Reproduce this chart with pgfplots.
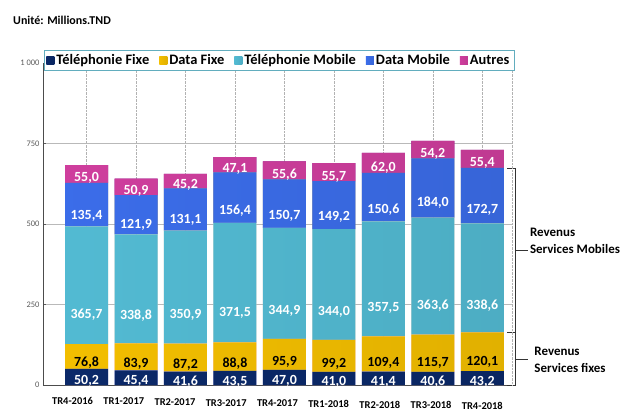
\documentclass[border=0pt]{standalone}
\usepackage{pgfplots}
\pgfplotsset{compat=1.18}
\usepackage{fontspec}
\setmainfont{Carlito}
\definecolor{cTF}{HTML}{0B2A6C}
\definecolor{cDF}{HTML}{FAC400}
\definecolor{cTM}{HTML}{55C0D9}
\definecolor{cDM}{HTML}{3D70F0}
\definecolor{cAU}{HTML}{D540A2}
\pgfplotsset{
  valnode/.style={
    visualization depends on=rawy \as \myrawy,
    nodes near coords={\pgfmathprintnumber[fixed,fixed zerofill,precision=1,use comma]{\myrawy}},
    every node near coord/.append style={anchor=center, yshift={-0.0805*\myrawy*1bp}, font=\bfseries\fontsize{14}{14}\selectfont, text=#1, inner sep=0pt}
  },
  cyl/.style={draw=none, left color=#1!97!black, middle color=#1!88!white, right color=#1!90!black}
}
\begin{document}
\begin{tikzpicture}
\path[use as bounding box] (-43bp,-27bp) rectangle (587bp,385bp);
\begin{axis}[
  at={(0,0)}, anchor=south west,
  scale only axis, width=469bp, height=322bp,
  ybar stacked, bar width=43bp,
  xmin=-0.88, xmax=8.6, ymin=0, ymax=1000,
  enlargelimits=false, clip=false,
  xtick={0,...,8},
  xticklabels={TR4-2016,TR1-2017,TR2-2017,TR3-2017,TR4-2017,TR1-2018,TR2-2018,TR3-2018,TR4-2018},
  xticklabel style={font=\bfseries\fontsize{10.5}{10.5}\selectfont, xshift={-14bp+1.75bp*\ticknum}, yshift={-9bp-0.55bp*\ticknum}},
  ytick={0,250,500,750,1000},
  yticklabels={0,250,500,750,1 000},
  yticklabel style={font=\fontsize{8.5}{8.5}\selectfont, text=gray!70!black},
  /pgf/number format/assume math mode=true,
  x tick style={draw=none},
  y tick style={gray!70!black},
  major tick length=3bp,
  axis x line*=bottom, axis y line*=left,
  axis line style={gray!60!black},
  xmajorgrids, ymajorgrids,
  x grid style={gray!60, densely dotted},
  y grid style={gray!55},
  legend columns=5,
  legend style={at={(0.503,1.009)}, anchor=center, draw=cTM!70!gray, fill=white,
    font=\bfseries\fontsize{14.5}{14.5}\selectfont, inner sep=2.5pt,
    /tikz/every even column/.append style={column sep=8bp}},
  legend image code/.code={\fill[#1] (0bp,-4bp) rectangle (8bp,4bp);},
]
\addplot+[cyl=cTF, valnode=white] coordinates {(0,50.2) (1,45.4) (2,41.6) (3,43.5) (4,47.0) (5,41.0) (6,41.4) (7,40.6) (8,43.2)};
\addplot+[cyl=cDF, valnode=black] coordinates {(0,76.8) (1,83.9) (2,87.2) (3,88.8) (4,95.9) (5,99.2) (6,109.4) (7,115.7) (8,120.1)};
\addplot+[cyl=cTM, valnode=white] coordinates {(0,365.7) (1,338.8) (2,350.9) (3,371.5) (4,344.9) (5,344.0) (6,357.5) (7,363.6) (8,338.6)};
\addplot+[cyl=cDM, valnode=white] coordinates {(0,135.4) (1,121.9) (2,131.1) (3,156.4) (4,150.7) (5,149.2) (6,150.6) (7,184.0) (8,172.7)};
\addplot+[cyl=cAU, valnode=white] coordinates {(0,55.0) (1,50.9) (2,45.2) (3,47.1) (4,55.6) (5,55.7) (6,62.0) (7,54.2) (8,55.4)};
\legend{Téléphonie Fixe, Data Fixe, Téléphonie Mobile, Data Mobile, Autres}
\draw[gray!60, densely dotted] (rel axis cs:1,0) -- (rel axis cs:1,1);
% brackets
\draw[black!80] (axis cs:8.5,674.6) -- (axis cs:8.66,674.6) -- (axis cs:8.66,163.3) -- (axis cs:8.5,163.3);
\draw[black!80] (axis cs:8.66,419) -- (axis cs:8.93,419);
\draw[black!80] (axis cs:8.66,163.3) -- (axis cs:8.66,0) -- (axis cs:8.5,0);
\draw[black!80] (axis cs:8.66,81.6) -- (axis cs:8.93,81.6);
\node[anchor=west, align=left, font=\bfseries\fontsize{13}{17}\selectfont, inner sep=0pt] at (axis cs:8.96,447) {Revenus\\Services Mobiles};
\node[anchor=west, align=left, font=\bfseries\fontsize{13}{17}\selectfont, inner sep=0pt] at (axis cs:9.05,78) {Revenus\\Services fixes};
\end{axis}
\node[anchor=west, font=\bfseries\fontsize{12}{12}\selectfont, inner sep=0pt] at (-30bp,365bp) {Unité: Millions.TND};
\end{tikzpicture}
\end{document}
